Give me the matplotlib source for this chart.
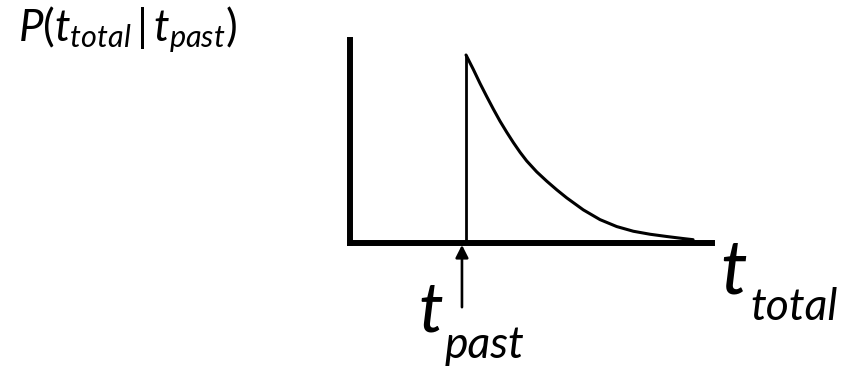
import matplotlib
matplotlib.use("Agg")
import matplotlib.pyplot as plt

plt.rcParams["mathtext.fontset"] = "custom"
plt.rcParams["mathtext.it"] = "Lato:italic"
plt.rcParams["mathtext.rm"] = "Lato"
plt.rcParams["mathtext.bf"] = "Lato:bold"

# Posterior over total duration, given elapsed time t_past = 1
t_past = 1.0
t_total = [1.000, 1.063, 1.121, 1.178, 1.235, 1.293, 1.351, 1.408, 1.466,
           1.523, 1.609, 1.696, 1.782, 1.868, 2.011, 2.155, 2.299, 2.442,
           2.586, 2.730, 2.873, 2.957]
p_total = [1.000, 0.923, 0.848, 0.779, 0.712, 0.647, 0.588, 0.533, 0.481,
           0.435, 0.377, 0.327, 0.281, 0.238, 0.174, 0.122, 0.085, 0.060,
           0.044, 0.032, 0.021, 0.015]

fig = plt.figure(figsize=(8.45, 3.69), dpi=100)
ax = fig.add_axes([350 / 845, 1 - 242.5 / 369, 362 / 845, 202.5 / 369])
ax.set_xlim(0, 3.12)
ax.set_ylim(0, 1.08)

for side in ("top", "right"):
    ax.spines[side].set_visible(False)
for side in ("left", "bottom"):
    ax.spines[side].set_linewidth(4.3)
    ax.spines[side].set_capstyle("projecting")
    ax.spines[side].set_zorder(5)
ax.set_xticks([])
ax.set_yticks([])

# Vertical edge at t_past and decaying tail
ax.plot([t_past, t_past], [0, p_total[0]], color="black", lw=2.0,
        solid_capstyle="butt")
ax.plot(t_total, p_total, color="black", lw=2.2, solid_joinstyle="round",
        solid_capstyle="round")

# Arrow marking t_past on the axis
ax.annotate("", xy=(t_past - 0.035, -0.013), xytext=(t_past - 0.035, -0.345),
            xycoords="data", textcoords="data", annotation_clip=False,
            arrowprops=dict(arrowstyle="-|>,head_length=0.75,head_width=0.38",
                            lw=1.9, color="black", shrinkA=0, shrinkB=0))

fig.text(18 / 845, 1 - 41 / 369, r"$P(t_{total}\,|\,t_{past})$",
         fontsize=31.5, ha="left", va="baseline")


def label(x, y, main, sub, x_sub, dy_sub, size, sub_size):
    """Italic symbol with a deep subscript, positioned in pixels."""
    kw = dict(family="Lato", style="italic", ha="left", va="baseline")
    fig.text(x / 845, 1 - y / 369, main, fontsize=size, **kw)
    fig.text(x_sub / 845, 1 - (y + dy_sub) / 369, sub, fontsize=sub_size, **kw)


label(418, 331, "t", "past", 445, 27, 50, 32)
label(720, 293, "t", "total", 750, 27, 54, 32)

fig.savefig("out.png", dpi=100)
